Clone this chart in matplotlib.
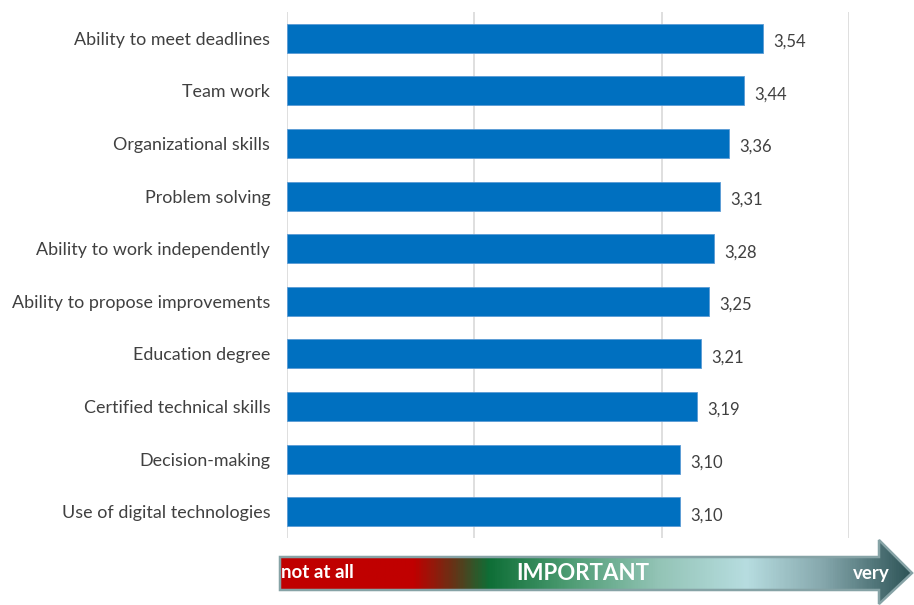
import numpy as np
import matplotlib.pyplot as plt
from matplotlib.patches import Polygon
from matplotlib.colors import LinearSegmentedColormap

plt.rcParams['font.family'] = ['Lato', 'DejaVu Sans']

skills = ['Ability to meet deadlines', 'Team work', 'Organizational skills',
          'Problem solving', 'Ability to work independently',
          'Ability to propose improvements', 'Education degree',
          'Certified technical skills', 'Decision-making',
          'Use of digital technologies']
scores = [3.54, 3.44, 3.36, 3.31, 3.28, 3.25, 3.21, 3.19, 3.10, 3.10]

scale_min = 1
scale_max = 4

W, H = 914, 605
fig = plt.figure(figsize=(W / 100, H / 100), dpi=100)
ax = fig.add_axes([287 / W, 1 - 538 / H, (849 - 287) / W, (538 - 12) / H])

y = np.arange(len(skills))
widths = [s - scale_min for s in scores]
ax.barh(y, widths, left=scale_min, height=0.55, color='#0070C0',
        edgecolor='#5b9bd5', linewidth=0.6, zorder=3)
for yi, s in zip(y, scores):
    ax.text(s + 0.055, yi + 0.04, ('%.2f' % s).replace('.', ','),
            va='center_baseline', ha='left', fontsize=12, color='#404040')

ax.set_xlim(scale_min, scale_max)
ax.set_ylim(len(skills) - 0.5, -0.5)
ax.set_xticks(range(scale_min, scale_max + 1))
ax.set_xticklabels([])
ax.set_yticks(y)
ax.set_yticklabels(skills, fontsize=12.9, color='#404040')
ax.tick_params(axis='both', length=0)
ax.tick_params(axis='y', pad=12)
ax.grid(axis='x', color='#d9d9d9', linewidth=1.2, zorder=0)
for sp in ax.spines.values():
    sp.set_visible(False)

# importance arrow under the chart, drawn in pixel coordinates
ov = fig.add_axes([0, 0, 1, 1], zorder=5)
ov.set_xlim(0, W)
ov.set_ylim(H, 0)
ov.axis('off')

x0, x1, xh = 280, 912, 879
shape = [(x0, 557), (xh, 557), (xh, 540), (x1, 573), (xh, 604),
         (xh, 590), (x0, 590)]
stops = [(0.0, '#c00000'), (0.21, '#c00000'), (0.27, '#6b3015'),
         (0.33, '#0e6e36'), (0.45, '#4a9a70'), (0.60, '#93c4b6'),
         (0.74, '#b7dde0'), (0.86, '#86a8ad'), (1.0, '#2e5457')]
cmap = LinearSegmentedColormap.from_list('importance', stops)
grad = np.linspace(0, 1, 600).reshape(1, -1)
img = ov.imshow(grad, cmap=cmap, aspect='auto', extent=(x0, x1, 604, 540),
                interpolation='bilinear')
poly = Polygon(shape, closed=True, facecolor='none', edgecolor='#86a3a6',
               linewidth=1.8)
ov.add_patch(poly)
img.set_clip_path(poly)

ov.text(x0 + 1, 573, 'not at all', color='white', fontsize=13.5,
        fontweight='bold', ha='left', va='center')
ov.text(583, 574, 'IMPORTANT', color='white', fontsize=16,
        fontweight='bold', ha='center', va='center')
ov.text(871, 574, 'very', color='white', fontsize=13.5,
        fontweight='bold', ha='center', va='center')

fig.savefig('out.png', dpi=100)
